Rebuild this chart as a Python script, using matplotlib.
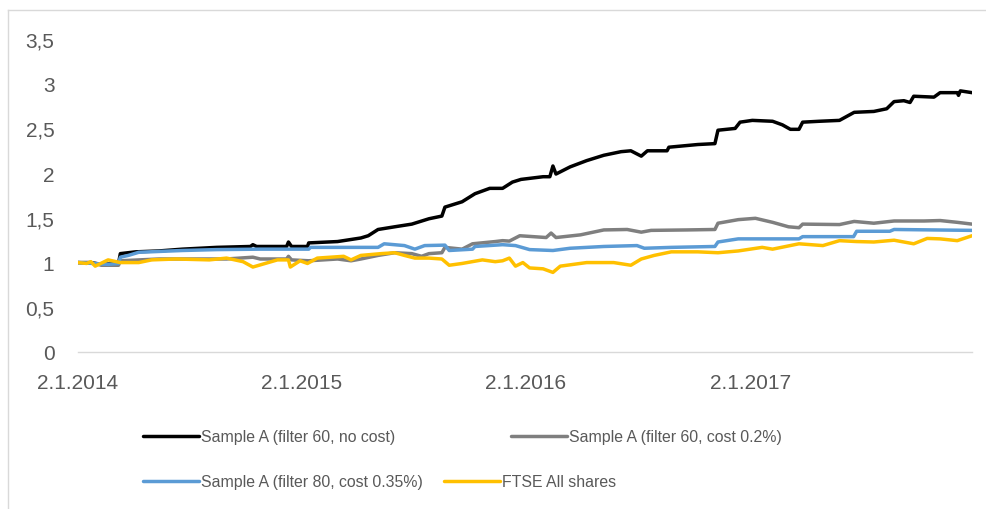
import matplotlib
matplotlib.use("Agg")
import matplotlib.pyplot as plt
from matplotlib.lines import Line2D
import pandas as pd

plt.rcParams['font.family'] = ['Liberation Sans', 'DejaVu Sans']

# ---------------- data ----------------
black_dates = ["2014-01-02", "2014-01-23", "2014-02-09", "2014-03-09", "2014-03-12", "2014-04-06",
               "2014-05-14", "2014-06-21", "2014-08-16", "2014-10-10", "2014-10-14", "2014-10-20",
               "2014-12-08", "2014-12-11", "2014-12-16", "2015-01-11", "2015-01-13", "2015-03-01",
               "2015-04-08", "2015-04-20", "2015-05-06", "2015-06-02", "2015-06-30", "2015-07-28",
               "2015-08-18", "2015-08-23", "2015-09-20", "2015-10-11", "2015-11-04", "2015-11-25",
               "2015-12-11", "2015-12-25", "2016-01-30", "2016-02-10", "2016-02-15", "2016-02-20",
               "2016-03-14", "2016-04-10", "2016-05-08", "2016-06-05", "2016-06-21", "2016-07-08",
               "2016-07-18", "2016-08-19", "2016-08-22", "2016-10-08", "2016-11-05", "2016-11-10",
               "2016-12-08", "2016-12-16", "2017-01-05", "2017-02-07", "2017-02-23", "2017-03-08",
               "2017-03-22", "2017-03-28", "2017-04-24", "2017-05-27", "2017-06-20", "2017-07-22",
               "2017-08-12", "2017-08-24", "2017-09-09", "2017-09-19", "2017-09-25", "2017-10-28",
               "2017-11-07", "2017-12-05", "2017-12-07", "2017-12-10", "2017-12-29"]
black_values = [1.00, 1.00, 0.98, 0.99, 1.10, 1.12,
                1.13, 1.15, 1.17, 1.18, 1.20, 1.18,
                1.18, 1.23, 1.18, 1.18, 1.22, 1.235,
                1.275, 1.30, 1.37, 1.40, 1.43, 1.49,
                1.52, 1.62, 1.68, 1.77, 1.83, 1.83,
                1.90, 1.93, 1.96, 1.96, 2.08, 1.99,
                2.07, 2.14, 2.20, 2.24, 2.25, 2.19,
                2.25, 2.25, 2.29, 2.32, 2.33, 2.48,
                2.50, 2.57, 2.59, 2.58, 2.54, 2.49,
                2.49, 2.57, 2.58, 2.59, 2.68, 2.69,
                2.72, 2.80, 2.81, 2.79, 2.86, 2.85,
                2.90, 2.90, 2.87, 2.92, 2.90]

gray_dates = ["2014-01-02", "2014-01-30", "2014-02-09", "2014-03-09", "2014-03-12", "2014-05-14",
              "2014-07-07", "2014-09-01", "2014-10-14", "2014-10-26", "2014-12-08", "2014-12-11",
              "2014-12-16", "2015-01-13", "2015-03-01", "2015-03-23", "2015-04-08", "2015-05-06",
              "2015-06-02", "2015-06-30", "2015-07-16", "2015-07-28", "2015-08-18", "2015-08-23",
              "2015-09-20", "2015-10-07", "2015-11-13", "2015-11-25", "2015-12-06", "2015-12-23",
              "2016-02-04", "2016-02-12", "2016-02-20", "2016-03-31", "2016-05-08", "2016-06-15",
              "2016-07-08", "2016-07-24", "2016-09-21", "2016-11-05", "2016-11-10", "2016-12-13",
              "2017-01-10", "2017-02-07", "2017-03-05", "2017-03-22", "2017-03-28", "2017-05-27",
              "2017-06-20", "2017-07-22", "2017-08-24", "2017-10-12", "2017-11-07", "2017-12-05",
              "2017-12-29"]
gray_values = [1.00, 0.99, 0.97, 0.97, 1.02, 1.04,
               1.04, 1.04, 1.06, 1.04, 1.04, 1.07,
               1.03, 1.02, 1.04, 1.02, 1.04, 1.08,
               1.11, 1.10, 1.07, 1.10, 1.11, 1.17,
               1.15, 1.21, 1.235, 1.245, 1.24, 1.30,
               1.28, 1.33, 1.28, 1.31, 1.365, 1.37,
               1.34, 1.36, 1.365, 1.37, 1.44, 1.48,
               1.495, 1.45, 1.40, 1.39, 1.43, 1.425,
               1.46, 1.44, 1.465, 1.465, 1.47, 1.45,
               1.43]

blue_dates = ["2014-01-02", "2014-02-20", "2014-03-09", "2014-03-12", "2014-03-25", "2014-04-11",
              "2014-06-21", "2014-08-16", "2014-10-26", "2015-01-13", "2015-01-16", "2015-05-06",
              "2015-05-16", "2015-06-18", "2015-07-05", "2015-07-21", "2015-08-23", "2015-08-30",
              "2015-10-07", "2015-10-11", "2015-11-25", "2015-12-16", "2016-01-08", "2016-02-15",
              "2016-03-14", "2016-05-08", "2016-07-01", "2016-07-13", "2016-08-26", "2016-11-05",
              "2016-11-10", "2016-12-13", "2017-03-22", "2017-03-28", "2017-06-19", "2017-06-24",
              "2017-08-17", "2017-08-24", "2017-12-29"]
blue_values = [1.00, 0.98, 0.99, 1.06, 1.08, 1.115,
               1.135, 1.145, 1.15, 1.15, 1.17, 1.17,
               1.21, 1.19, 1.15, 1.19, 1.195, 1.135,
               1.15, 1.18, 1.20, 1.19, 1.145, 1.135,
               1.16, 1.18, 1.19, 1.16, 1.17, 1.18,
               1.23, 1.265, 1.265, 1.29, 1.29, 1.35,
               1.35, 1.37, 1.36]

yellow_dates = ["2014-01-02", "2014-01-16", "2014-01-23", "2014-01-30", "2014-02-20", "2014-03-12",
                "2014-04-11", "2014-05-02", "2014-06-11", "2014-08-04", "2014-09-01", "2014-09-28",
                "2014-10-14", "2014-11-23", "2014-12-11", "2014-12-14", "2014-12-30", "2015-01-11",
                "2015-01-27", "2015-03-11", "2015-03-23", "2015-04-08", "2015-05-11", "2015-06-02",
                "2015-06-18", "2015-07-05", "2015-07-28", "2015-08-18", "2015-08-30", "2015-09-20",
                "2015-10-23", "2015-11-13", "2015-11-25", "2015-12-06", "2015-12-16", "2015-12-28",
                "2016-01-08", "2016-01-30", "2016-02-15", "2016-02-27", "2016-04-10", "2016-05-24",
                "2016-06-21", "2016-07-08", "2016-07-29", "2016-08-26", "2016-10-08", "2016-11-10",
                "2016-12-13", "2017-01-21", "2017-02-07", "2017-03-22", "2017-04-30", "2017-05-27",
                "2017-06-24", "2017-07-22", "2017-08-24", "2017-09-25", "2017-10-17", "2017-11-07",
                "2017-12-05", "2017-12-29"]
yellow_values = [1.00, 0.99, 1.01, 0.96, 1.03, 1.00,
                 1.00, 1.03, 1.04, 1.03, 1.05, 1.01,
                 0.95, 1.03, 1.03, 0.95, 1.02, 0.99,
                 1.05, 1.07, 1.03, 1.08, 1.10, 1.11,
                 1.08, 1.05, 1.05, 1.04, 0.97, 0.99,
                 1.03, 1.01, 1.02, 1.05, 0.96, 1.00,
                 0.94, 0.93, 0.89, 0.96, 1.00, 1.00,
                 0.97, 1.04, 1.08, 1.12, 1.12, 1.11,
                 1.13, 1.17, 1.15, 1.21, 1.19, 1.245,
                 1.235, 1.23, 1.25, 1.21, 1.27, 1.265,
                 1.245, 1.30]

series_labels = ["Sample A (filter 60, no cost)", "Sample A (filter 60, cost 0.2%)",
                 "Sample A (filter 80, cost 0.35%)", "FTSE All shares"]
x_tick_dates = ["2014-01-02", "2015-01-02", "2016-01-02", "2017-01-02"]
x_tick_labels = ["2.1.2014", "2.1.2015", "2.1.2016", "2.1.2017"]
y_ticks = [0, 0.5, 1, 1.5, 2, 2.5, 3, 3.5]
y_tick_labels = ["0", "0,5", "1", "1,5", "2", "2,5", "3", "3,5"]

# ---------------- figure ----------------
W, H = 987, 510
fig = plt.figure(figsize=(W / 100, H / 100), dpi=100)
ax = fig.add_axes([78 / W, 1 - 353 / H, (972 - 78) / W, (353 - 40) / H])

colors = ["#000000", "#7F7F7F", "#5B9BD5", "#FFC000"]
data = [(black_dates, black_values), (gray_dates, gray_values),
        (blue_dates, blue_values), (yellow_dates, yellow_values)]
handles = []
for (d, v), c, lab in zip(data, colors, series_labels):
    h, = ax.plot(pd.to_datetime(d), v, color=c, lw=2.5, solid_joinstyle='round',
                 solid_capstyle='round', label=lab)
    handles.append(h)

ax.set_xlim(pd.Timestamp("2014-01-02"), pd.Timestamp("2017-12-29"))
ax.set_ylim(0, 3.5)
ax.set_yticks(y_ticks)
ax.set_yticklabels(y_tick_labels)
ax.set_xticks(pd.to_datetime(x_tick_dates))
ax.set_xticklabels(x_tick_labels)

for s in ["top", "right", "left"]:
    ax.spines[s].set_visible(False)
ax.spines["bottom"].set_color("#D9D9D9")
ax.spines["bottom"].set_linewidth(1.0)
ax.tick_params(axis='both', length=0, labelsize=15, colors="#595959")
ax.tick_params(axis='y', pad=17)
ax.tick_params(axis='x', pad=15)

# legend: flow layout like Excel, one legend per entry
legend_pos = [(143, 438), (511, 438), (143, 483), (444, 483)]
for h, (lx, ly) in zip(handles, legend_pos):
    leg = fig.legend(handles=[h], loc='center left', bbox_to_anchor=(lx / W, 1 - ly / H),
                     frameon=False, fontsize=11.4, handlelength=3.55, handletextpad=0.12,
                     borderpad=0, borderaxespad=0)
    for t in leg.get_texts():
        t.set_color("#595959")

# chart area border (only left/top edges visible in the crop)
fig.add_artist(Line2D([8 / W, 8 / W], [0, 1 - 11 / H], transform=fig.transFigure,
                      color="#D9D9D9", lw=1.0))
fig.add_artist(Line2D([8 / W, 1], [1 - 11 / H, 1 - 11 / H], transform=fig.transFigure,
                      color="#D9D9D9", lw=1.0))

fig.savefig("out.png", dpi=100, facecolor="white")
